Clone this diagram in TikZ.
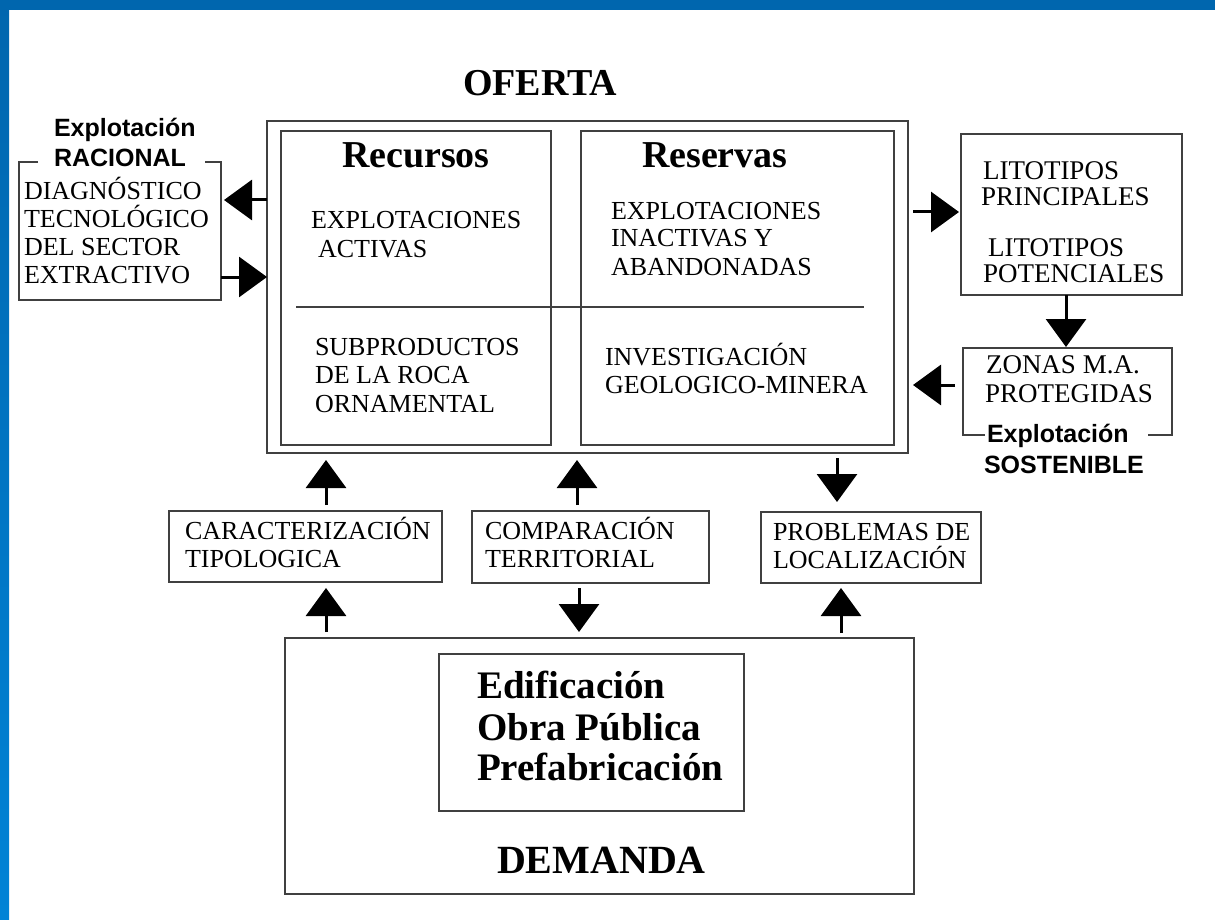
\documentclass[tikz,border=0pt]{standalone}
\usepackage{fontspec}
\setmainfont{Liberation Serif}
\newfontfamily\sansf{Liberation Sans}
\usetikzlibrary{arrows.meta}
\definecolor{frameA}{HTML}{0066AE}
\definecolor{frameB}{HTML}{0083D6}
\definecolor{boxgray}{HTML}{404040}
\tikzset{
  every node/.style={inner sep=0pt, outer sep=0pt},
  boxn/.style={draw=boxgray, line width=1.4pt, rectangle, anchor=north west},
  openbox/.style={draw=none, rectangle, anchor=north west},
  boxline/.style={draw=boxgray, line width=1.4pt},
  txt/.style={anchor=base west, font=\fontsize{26}{28}\selectfont},
  txtr/.style={anchor=base west, font=\fontsize{27}{29}\selectfont},
  headtxt/.style={anchor=base west, font=\bfseries\fontsize{38}{40}\selectfont},
  bigtxt/.style={anchor=base west, font=\bfseries\fontsize{39}{41}\selectfont},
  notetxt/.style={anchor=base west, font=\sansf\bfseries\fontsize{25}{30}\selectfont},
  arr/.style={line width=3pt, draw=black, -{Triangle[length=28pt,width=40pt]}},
}
\begin{document}
\begin{tikzpicture}[x=1pt,y=-1pt]
\useasboundingbox (0,0) rectangle (1215,920);
\fill[white] (0,0) rectangle (1215,920);
\shade[top color=frameA, bottom color=frameB] (0,0) rectangle (9,920);
\fill[frameA] (0,0) rectangle (1215,10);

% ---- boxes ----
\node[openbox, minimum width=202pt, minimum height=138pt] (diag) at (19,162) {};
\draw[boxline] ([xshift=19pt]diag.north west) -- (diag.north west) -- (diag.south west)
  -- (diag.south east) -- (diag.north east) -- ([xshift=-16pt]diag.north east);
\node[boxn, minimum width=641pt, minimum height=332pt] (ofe) at (267,121) {};
\node[boxn, minimum width=270pt, minimum height=314pt] (rec) at (281,131) {};
\node[boxn, minimum width=313pt, minimum height=314pt] (res) at (581,131) {};
\draw[boxline] (296,307) -- (864,307);
\node[boxn, minimum width=221pt, minimum height=161pt] (lito) at (961,134) {};
\node[openbox, minimum width=209pt, minimum height=87pt] (zonas) at (963,348) {};
\draw[boxline] ([xshift=22pt]zonas.south west) -- (zonas.south west) -- (zonas.north west)
  -- (zonas.north east) -- (zonas.south east) -- ([xshift=-24pt]zonas.south east);
\node[boxn, minimum width=273pt, minimum height=71pt] (carac) at (169,511) {};
\node[boxn, minimum width=237pt, minimum height=72pt] (comp) at (472,511) {};
\node[boxn, minimum width=220pt, minimum height=71pt] (prob) at (761,512) {};
\node[boxn, minimum width=629pt, minimum height=256pt] (dem) at (285,638) {};
\node[boxn, minimum width=305pt, minimum height=157pt] (uso) at (439,654) {};

% ---- texts ----
\node[notetxt] (n1) at (54,137) {Explotación};
\node[notetxt] (n2) at (54,167) {RACIONAL};
\node[txt] (d1) at (24,200) {DIAGNÓSTICO};
\node[txt] (d2) at (24,227) {TECNOLÓGICO};
\node[txt] (d3) at (24,255) {DEL SECTOR};
\node[txt] (d4) at (24,283) {EXTRACTIVO};

\node[headtxt] (of) at (463,96) {OFERTA};
\node[headtxt] (rc) at (342,168) {Recursos};
\node[headtxt] (rs) at (642,168) {Reservas};
\node[txt] (e1) at (311,229) {EXPLOTACIONES};
\node[txt] (e2) at (318,257) {ACTIVAS};
\node[txt] (i1) at (611,219) {EXPLOTACIONES};
\node[txt] (i2) at (611,247) {INACTIVAS Y};
\node[txt] (i3) at (611,275) {ABANDONADAS};
\node[txt] (s1) at (315,355) {SUBPRODUCTOS};
\node[txt] (s2) at (315,383) {DE LA ROCA};
\node[txt] (s3) at (315,412) {ORNAMENTAL};
\node[txt] (g1) at (605,365) {INVESTIGACIÓN};
\node[txt] (g2) at (605,393) {GEOLOGICO-MINERA};

\node[txtr] (l1) at (983,180) {LITOTIPOS};
\node[txtr] (l2) at (981,206) {PRINCIPALES};
\node[txtr] (l3) at (988,256) {LITOTIPOS};
\node[txtr] (l4) at (983,282) {POTENCIALES};
\node[txtr] (z1) at (986,373) {ZONAS M.A.};
\node[txtr] (z2) at (985,402) {PROTEGIDAS};
\node[notetxt] (n3) at (987,442) {Explotación};
\node[notetxt] (n4) at (984,473) {SOSTENIBLE};

\node[txt] (c1) at (185,539) {CARACTERIZACIÓN};
\node[txt] (c2) at (185,567) {TIPOLOGICA};
\node[txt] (m1) at (485,539) {COMPARACIÓN};
\node[txt] (m2) at (485,567) {TERRITORIAL};
\node[txt] (p1) at (773,540) {PROBLEMAS DE};
\node[txt] (p2) at (773,568) {LOCALIZACIÓN};

\node[bigtxt] (u1) at (477,698) {Edificación};
\node[bigtxt] (u2) at (477,740) {Obra Pública};
\node[bigtxt] (u3) at (477,780) {Prefabricación};
\node[anchor=base west, font=\bfseries\fontsize{40}{42}\selectfont] (dm) at (497,873) {DEMANDA};

% ---- arrows ----
\draw[arr, shorten >=3pt] (ofe.west |- 0,200) -- (diag.east |- 0,200);
\draw[arr] (diag.east |- 0,277) -- (ofe.west |- 0,277);
\draw[arr, shorten <=5pt, shorten >=2pt] (ofe.east |- 0,212) -- (lito.west |- 0,212);
\draw[arr, shorten >=1pt] (lito.south -| 1066,0) -- (zonas.north -| 1066,0);
\draw[arr, shorten <=8pt, shorten >=5pt] (zonas.west |- 0,385) -- (ofe.east |- 0,385);
\draw[arr, shorten <=6pt, shorten >=7pt] (carac.north -| 326,0) -- (ofe.south -| 326,0);
\draw[arr, shorten <=6pt, shorten >=6pt] (dem.north -| 326,0) -- (carac.south -| 326,0);
\draw[arr, shorten <=6pt, shorten >=7pt] (comp.north -| 577,0) -- (ofe.south -| 577,0);
\draw[arr, shorten <=5pt, shorten >=6pt] (comp.south -| 579,0) -- (dem.north -| 579,0);
\draw[arr, shorten <=5pt, shorten >=10pt] (ofe.south -| 837,0) -- (prob.north -| 837,0);
\draw[arr, shorten <=5pt, shorten >=5pt] (dem.north -| 841,0) -- (prob.south -| 841,0);
\end{tikzpicture}
\end{document}
